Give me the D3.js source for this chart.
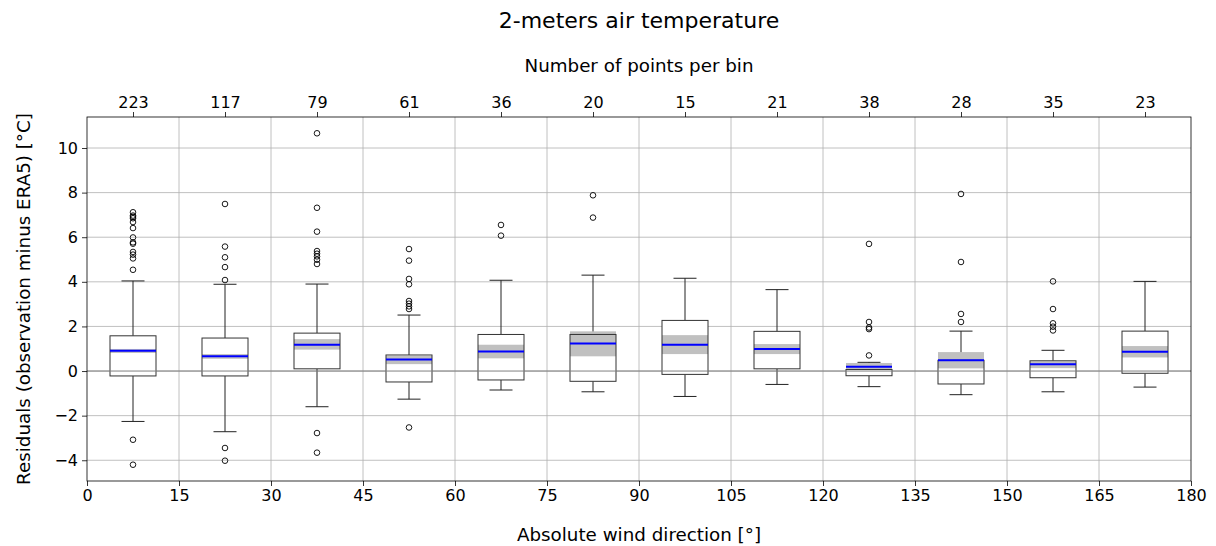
<!DOCTYPE html>
<html>
<head>
<meta charset="utf-8">
<script src="https://cdn.jsdelivr.net/npm/d3@7"></script>
<style>
  html, body { margin: 0; padding: 0; background: #fff; }
  svg { display: block; font-family: "DejaVu Sans", sans-serif; }
</style>
</head>
<body>
<svg id="chart" width="1216" height="546"></svg>
<script>
// ---- data ----
const binCenters = [7.5, 22.5, 37.5, 52.5, 67.5, 82.5, 97.5, 112.5, 127.5, 142.5, 157.5, 172.5];
const counts     = [223, 117, 79, 61, 36, 20, 15, 21, 38, 28, 35, 23];
const q1Values   = [-0.22, -0.22, 0.10, -0.49, -0.40, -0.46, -0.15, 0.10, -0.21, -0.58, -0.30, -0.10];
const q3Values   = [1.58, 1.48, 1.70, 0.72, 1.64, 1.64, 2.27, 1.78, 0.07, 0.48, 0.46, 1.79];
const whiskLow   = [-2.26, -2.72, -1.60, -1.26, -0.85, -0.93, -1.14, -0.60, -0.70, -1.06, -0.93, -0.72];
const whiskHigh  = [4.04, 3.89, 3.90, 2.51, 4.07, 4.30, 4.16, 3.65, 0.39, 1.79, 0.93, 4.02];
const meanValues = [0.91, 0.66, 1.18, 0.52, 0.88, 1.23, 1.18, 0.99, 0.19, 0.48, 0.30, 0.87];
const ciLow      = [0.81, 0.55, 0.96, 0.31, 0.57, 0.66, 0.76, 0.76, 0.07, 0.12, 0.13, 0.61];
const ciHigh     = [0.99, 0.76, 1.43, 0.68, 1.18, 1.78, 1.61, 1.21, 0.36, 0.85, 0.43, 1.12];
const outliers   = [
  [4.54, 5.05, 5.22, 5.34, 5.71, 5.77, 5.99, 6.41, 6.68, 6.85, 6.91, 6.97, 7.12, -3.08, -4.20],
  [4.08, 4.66, 5.10, 5.58, 7.49, -3.45, -4.02],
  [4.80, 4.99, 5.14, 5.26, 5.38, 6.25, 7.32, 10.66, -2.78, -3.66],
  [2.78, 2.90, 3.02, 3.14, 3.89, 4.13, 4.95, 5.47, -2.53],
  [6.07, 6.55],
  [6.88, 7.88],
  [],
  [],
  [0.70, 1.88, 1.95, 2.20, 5.70],
  [2.20, 2.56, 4.89, 7.94],
  [1.82, 1.99, 2.14, 2.78, 4.02],
  []
];
const xTicks = [0, 15, 30, 45, 60, 75, 90, 105, 120, 135, 150, 165, 180];
const yTicks = [-4, -2, 0, 2, 4, 6, 8, 10];

// ---- layout ----
const svg = d3.select("#chart");
const L = 87, R = 1191, T = 117, B = 481;
const x = d3.scaleLinear().domain([0, 180]).range([L, R]);
const y = d3.scaleLinear().domain([-4.93, 11.39]).range([B, T]);
const boxW = 7.5; // degrees

// grid
const grid = svg.append("g");
grid.selectAll("line.gx").data(xTicks.slice(1, -1)).join("line")
  .attr("x1", d => x(d)).attr("x2", d => x(d)).attr("y1", T).attr("y2", B)
  .attr("stroke", "#b0b0b0").attr("stroke-width", 0.8);
grid.selectAll("line.gy").data(yTicks).join("line")
  .attr("x1", L).attr("x2", R).attr("y1", d => y(d)).attr("y2", d => y(d))
  .attr("stroke", "#b0b0b0").attr("stroke-width", 0.8);

const data = binCenters.map((c, i) => ({
  c, q1: q1Values[i], q3: q3Values[i], lo: whiskLow[i], hi: whiskHigh[i],
  mean: meanValues[i], cl: ciLow[i], ch: ciHigh[i], out: outliers[i]
}));

const g = svg.append("g");
const bx = g.selectAll("g.box").data(data).join("g");

// whiskers
bx.append("line").attr("x1", d => x(d.c)).attr("x2", d => x(d.c))
  .attr("y1", d => y(d.q3)).attr("y2", d => y(d.hi)).attr("stroke", "#222").attr("stroke-width", 1);
bx.append("line").attr("x1", d => x(d.c)).attr("x2", d => x(d.c))
  .attr("y1", d => y(d.q1)).attr("y2", d => y(d.lo)).attr("stroke", "#222").attr("stroke-width", 1);
bx.append("line").attr("x1", d => x(d.c - boxW / 4)).attr("x2", d => x(d.c + boxW / 4))
  .attr("y1", d => y(d.hi)).attr("y2", d => y(d.hi)).attr("stroke", "#222").attr("stroke-width", 1);
bx.append("line").attr("x1", d => x(d.c - boxW / 4)).attr("x2", d => x(d.c + boxW / 4))
  .attr("y1", d => y(d.lo)).attr("y2", d => y(d.lo)).attr("stroke", "#222").attr("stroke-width", 1);

// box fill
bx.append("rect").attr("x", d => x(d.c - boxW / 2)).attr("width", x(boxW) - x(0))
  .attr("y", d => y(d.q3)).attr("height", d => y(d.q1) - y(d.q3))
  .attr("fill", "#fff");
// CI band
bx.append("rect").attr("x", d => x(d.c - boxW / 2)).attr("width", x(boxW) - x(0))
  .attr("y", d => y(d.ch)).attr("height", d => y(d.cl) - y(d.ch))
  .attr("fill", "#c0c0c0");

// zero line
svg.append("line").attr("x1", L).attr("x2", R).attr("y1", y(0)).attr("y2", y(0))
  .attr("stroke", "#808080").attr("stroke-width", 1);

// box outline
bx.append("rect").attr("x", d => x(d.c - boxW / 2)).attr("width", x(boxW) - x(0))
  .attr("y", d => y(d.q3)).attr("height", d => y(d.q1) - y(d.q3))
  .attr("fill", "none").attr("stroke", "#333").attr("stroke-width", 1);
// mean line
bx.append("line").attr("x1", d => x(d.c - boxW / 2)).attr("x2", d => x(d.c + boxW / 2))
  .attr("y1", d => y(d.mean)).attr("y2", d => y(d.mean))
  .attr("stroke", "#0000ff").attr("stroke-width", 2);
// fliers
bx.selectAll("circle").data(d => d.out.map(v => ({ c: d.c, v }))).join("circle")
  .attr("cx", d => x(d.c)).attr("cy", d => y(d.v)).attr("r", 2.8)
  .attr("fill", "none").attr("stroke", "#000").attr("stroke-width", 0.9);

// axes
const fontTick = 16;
const xAxisB = svg.append("g").attr("transform", `translate(0,${B})`)
  .call(d3.axisBottom(x).tickValues(xTicks).tickSize(5).tickPadding(4).tickFormat(d3.format("d")));
const yAxis = svg.append("g").attr("transform", `translate(${L},0)`)
  .call(d3.axisLeft(y).tickValues(yTicks).tickSize(5).tickPadding(4).tickFormat(d => d < 0 ? "\u2212" + Math.abs(d) : d));
const xAxisT = svg.append("g").attr("transform", `translate(0,${T})`)
  .call(d3.axisTop(x).tickValues(binCenters).tickSize(5).tickPadding(4).tickFormat((d, i) => counts[i]));
[xAxisB, yAxis, xAxisT].forEach(a => {
  a.select(".domain").remove();
  a.selectAll(".tick line").attr("stroke", "#000").attr("stroke-width", 0.8);
  a.selectAll(".tick text").attr("font-size", fontTick).attr("fill", "#000")
    .attr("font-family", "DejaVu Sans");
});

// frame
svg.append("rect").attr("x", L).attr("y", T).attr("width", R - L).attr("height", B - T)
  .attr("fill", "none").attr("stroke", "#000").attr("stroke-width", 0.8);

// texts
const fontLabel = 18.3;
svg.append("text").attr("x", (L + R) / 2).attr("y", 28).attr("text-anchor", "middle")
  .attr("font-size", 22).text("2-meters air temperature");
svg.append("text").attr("x", (L + R) / 2).attr("y", 72).attr("text-anchor", "middle")
  .attr("font-size", fontLabel).text("Number of points per bin");
svg.append("text").attr("x", (L + R) / 2).attr("y", 541).attr("text-anchor", "middle")
  .attr("font-size", fontLabel).text("Absolute wind direction [°]");
svg.append("text").attr("transform", `translate(30,${(T + B) / 2}) rotate(-90)`)
  .attr("text-anchor", "middle").attr("font-size", fontLabel)
  .text("Residuals (observation minus ERA5) [°C]");
</script>
</body>
</html>
